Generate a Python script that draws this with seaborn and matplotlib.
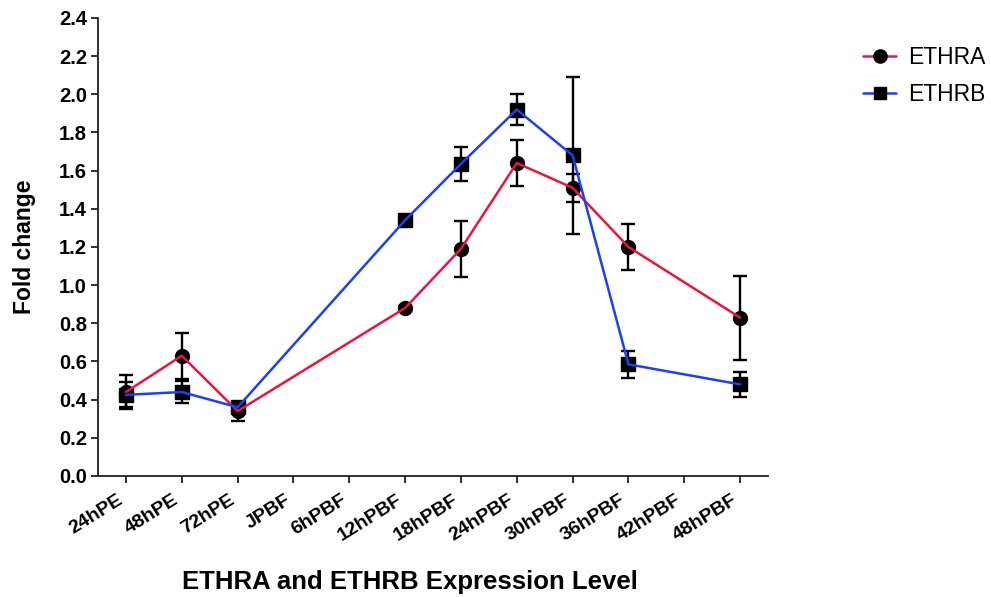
import numpy as np
import pandas as pd
import matplotlib
matplotlib.use("Agg")
import matplotlib.pyplot as plt
from matplotlib.lines import Line2D
import seaborn as sns

# Sampling points (stages) and mean fold change with SEM per gene
categories = ["24hPE", "48hPE", "72hPE", "JPBF", "6hPBF", "12hPBF",
              "18hPBF", "24hPBF", "30hPBF", "36hPBF", "42hPBF", "48hPBF"]
ethra = [0.44, 0.63, 0.34, np.nan, np.nan, 0.88, 1.19, 1.64, 1.51, 1.20, np.nan, 0.83]
ethra_err = [0.09, 0.12, 0.05, np.nan, np.nan, 0.01, 0.145, 0.12, 0.075, 0.12, np.nan, 0.22]
ethrb = [0.425, 0.44, 0.36, np.nan, np.nan, 1.34, 1.635, 1.92, 1.68, 0.585, np.nan, 0.48]
ethrb_err = [0.065, 0.06, 0.015, np.nan, np.nan, 0.015, 0.09, 0.08, 0.41, 0.07, np.nan, 0.065]
yticks = [0.0, 0.2, 0.4, 0.6, 0.8, 1.0, 1.2, 1.4, 1.6, 1.8, 2.0, 2.2, 2.4]

RED = "#E8163D"
BLUE = "#1D40F0"

sns.set_theme(style="ticks")
plt.rcParams["font.family"] = ["Liberation Sans", "DejaVu Sans"]
plt.rcParams.update({
    "text.color": "black",
    "axes.labelcolor": "black",
    "xtick.color": "black",
    "ytick.color": "black",
})

pos = np.arange(len(categories))
df = pd.concat([
    pd.DataFrame({"pos": pos, "value": ethra, "err": ethra_err, "gene": "ETHRA"}),
    pd.DataFrame({"pos": pos, "value": ethrb, "err": ethrb_err, "gene": "ETHRB"}),
]).dropna()

fig = plt.figure(figsize=(9.91, 5.97), dpi=100)
ax = fig.add_axes([0.0989, 0.2027, 0.6761, 0.7672])

sns.lineplot(data=df, x="pos", y="value", hue="gene",
             palette={"ETHRA": RED, "ETHRB": BLUE},
             linewidth=1.8, legend=False, ax=ax, zorder=3)

markers = {"ETHRA": "o", "ETHRB": "s"}
for gene, sub in df.groupby("gene"):
    ax.errorbar(sub["pos"], sub["value"], yerr=sub["err"], fmt=markers[gene],
                color="black", ms=10 if gene == "ETHRA" else 9.5,
                capsize=5, elinewidth=1.7, capthick=1.7, zorder=2)

ax.set_xlim(-0.5, len(categories) - 0.5)
ax.set_ylim(0, 2.4)
ax.set_xticks(pos)
ax.set_xticklabels(categories, rotation=32, ha="right",
                   fontsize=14, fontweight="bold")
ax.set_yticks(yticks)
ax.set_yticklabels([f"{t:.1f}" for t in yticks], fontsize=14.5, fontweight="bold")

for side in ("top", "right"):
    ax.spines[side].set_visible(False)
for side in ("left", "bottom"):
    ax.spines[side].set_linewidth(1.3)
    ax.spines[side].set_color("#222222")
ax.tick_params(direction="out", length=5, width=1.3, color="#222222",
               labelcolor="black", pad=3)
ax.tick_params(axis="x", pad=6)

ax.set_xlabel("ETHRA and ETHRB Expression Level", fontsize=18.5,
              fontweight="bold", va="center")
ax.xaxis.set_label_coords(0.4657, -0.231)
ax.set_ylabel("Fold change", fontsize=16.5, fontweight="bold", va="center")
ax.yaxis.set_label_coords(-0.110, 0.5)

handles = [
    Line2D([], [], color=RED, lw=1.8, marker="o", ms=9.5,
           markerfacecolor="black", markeredgecolor="black"),
    Line2D([], [], color=BLUE, lw=1.8, marker="s", ms=9,
           markerfacecolor="black", markeredgecolor="black"),
]
fig.legend(handles, ["ETHRA", "ETHRB"], loc="upper left",
           bbox_to_anchor=(852 / 991, 1 - 35 / 597), frameon=False,
           fontsize=16.5, handlelength=1.4, handletextpad=0.55,
           labelspacing=0.6, borderpad=0)

fig.savefig("out.png", dpi=100)
